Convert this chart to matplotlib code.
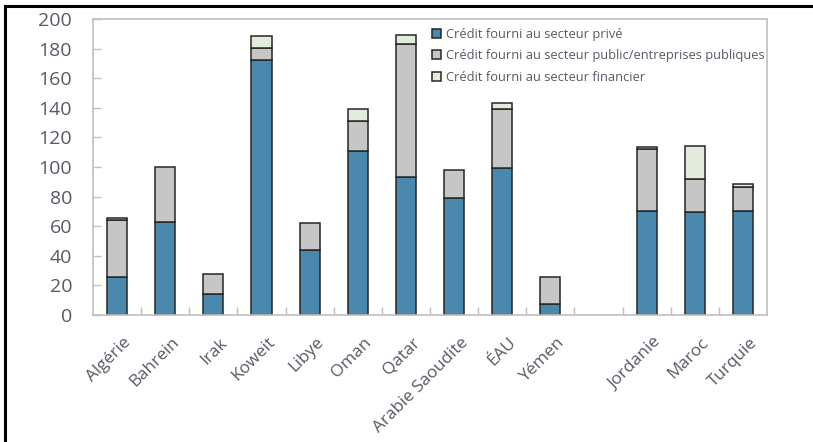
import numpy as np
import matplotlib
matplotlib.use("Agg")
import matplotlib.pyplot as plt
import matplotlib.transforms as mtransforms
from matplotlib.lines import Line2D

plt.rcParams['font.family'] = ['Open Sans', 'DejaVu Sans']

countries = ["Algérie", "Bahrein", "Irak", "Koweit", "Libye", "Oman", "Qatar",
             "Arabie Saoudite", "ÉAU", "Yémen", "", "Jordanie", "Maroc", "Turquie"]
prive = [26, 63, 14, 172, 44, 111, 93, 79, 99.5, 7.5, 0, 70.5, 69.5, 70.5]
public = [38.5, 37, 14, 8.5, 18, 20, 90, 19, 39.5, 18, 0, 41.5, 22.5, 16]
financier = [1, 0, 0, 8, 0, 8, 6, 0, 4.5, 0, 0, 1.2, 22.5, 2]
labels = ["Crédit fourni au secteur privé",
          "Crédit fourni au secteur public/entreprises publiques",
          "Crédit fourni au secteur financier"]

colors = ["#4a89ad", "#c6c6c6", "#e3ecdc"]
edge = "#262626"
grey = "#bfbfbf"
txt = "#595966"

fig = plt.figure(figsize=(8.13, 4.42), dpi=100)
ax = fig.add_axes([0.1144, 0.2873, 0.8290, 0.6697])

x = np.arange(len(countries))
prive = np.array(prive)
public = np.array(public)
financier = np.array(financier)
has = np.array([c != "" for c in countries])
w = 0.42
ax.bar(x[has], prive[has], w, color=colors[0], edgecolor=edge, linewidth=1.1, label=labels[0])
ax.bar(x[has], public[has], w, bottom=prive[has], color=colors[1], edgecolor=edge,
       linewidth=1.1, label=labels[1])
fin = has & (financier > 0)
ax.bar(x[fin], financier[fin], w, bottom=(prive + public)[fin], color=colors[2],
       edgecolor=edge, linewidth=1.1, label=labels[2])

ax.set_xlim(-0.5, len(countries) - 0.5)
ax.set_ylim(0, 200)
ax.set_yticks(np.arange(0, 201, 20))
ax.set_xticks(x)
ax.set_xticklabels(countries, rotation=45, ha='right', rotation_mode='anchor')
ax.set_xticks(np.arange(0.5, len(countries) - 1, 1), minor=True)
ax.tick_params(axis='x', which='major', length=0, pad=14, labelsize=12.3, labelcolor=txt)
ax.tick_params(axis='x', which='minor', direction='in', length=6, color=grey, width=1)
ax.tick_params(axis='y', direction='in', length=6, color=grey, width=1, pad=15,
               labelsize=14, labelcolor=txt)
shift = mtransforms.ScaledTranslation(6 / 100, 0, fig.dpi_scale_trans)
for lab in ax.get_xticklabels():
    lab.set_transform(lab.get_transform() + shift)
for s in ax.spines.values():
    s.set_color(grey)
    s.set_linewidth(1.2)

handles, lbls = ax.get_legend_handles_labels()
leg = ax.legend(handles, lbls, loc='upper left', bbox_to_anchor=(0.49, 1.0), frameon=False,
                fontsize=9.3, handlelength=0.7, handleheight=0.7, handletextpad=0.35,
                labelspacing=0.65, borderaxespad=0.3)
for t in leg.get_texts():
    t.set_color(txt)

# outer frame (top and left only)
fig.add_artist(Line2D([0.006, 1.0], [0.987, 0.987], color='black', linewidth=2.2,
                      transform=fig.transFigure))
fig.add_artist(Line2D([0.006, 0.006], [0.0, 0.987], color='black', linewidth=2.2,
                      transform=fig.transFigure))

fig.savefig("out.png", dpi=100)
